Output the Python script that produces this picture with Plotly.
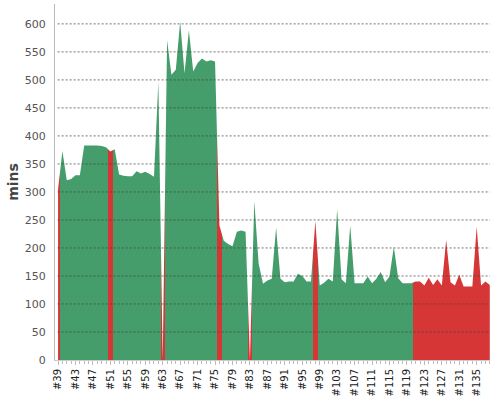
import plotly.graph_objects as go

# session numbers on the x axis, minutes played per session
sessions = list(range(39, 139))
mins = [
    305, 373, 321, 323, 330, 330, 383, 383, 383, 383,
    382, 380, 372, 376, 331, 329, 328, 328, 337, 333,
    336, 332, 327, 497, 0, 571, 509, 518, 604, 512,
    588, 515, 530, 538, 533, 535, 533, 240, 213, 207,
    203, 229, 231, 229, 0, 284, 172, 136, 142, 145,
    236, 145, 139, 140, 140, 154, 150, 140, 140, 248,
    133, 138, 145, 140, 269, 144, 137, 240, 137, 137,
    137, 149, 137, 145, 157, 139, 149, 202, 146, 137,
    137, 137, 140, 140, 133, 147, 134, 144, 133, 214,
    139, 133, 152, 131, 131, 131, 238, 133, 140, 134,
]
# sessions drawn in red
red_sessions = [39, 51, 63, 76, 83, 98] + list(range(121, 139))

tick_sessions = sessions[::4]
tick_labels = ["#%d" % s for s in tick_sessions]
y_ticks = list(range(0, 601, 50))

GREEN = "#449d6b"
RED = "#d63636"

# horizontal colour zones, one session wide, as a stepped colorscale
x0, x1 = sessions[0], sessions[-1]
stops = []
prev = None
for s in sessions:
    col = RED if s in red_sessions else GREEN
    if col != prev:
        p = (max(s - 0.5, x0) - x0) / (x1 - x0)
        if prev is not None:
            stops.append([p, prev])
        stops.append([p, col])
        prev = col
stops.append([1.0, prev])

fig = go.Figure()
fig.add_trace(go.Scatter(
    x=sessions, y=mins, mode="none", fill="tozeroy",
    fillgradient=dict(type="horizontal", colorscale=stops, start=x0, stop=x1),
    hoverinfo="x+y",
))

# dashed grid drawn over the fill
for v in y_ticks[1:]:
    fig.add_shape(type="line", xref="paper", x0=0.006, x1=1, yref="y", y0=v, y1=v,
                  line=dict(color="rgba(70,70,70,0.75)", width=1, dash="2px,2px"),
                  layer="above")

fig.update_layout(
    width=500, height=400,
    margin=dict(l=55, r=10, t=4, b=38),
    plot_bgcolor="white", paper_bgcolor="white",
    font=dict(family="DejaVu Sans", color="#444"),
    showlegend=False,
    xaxis=dict(
        range=[38.3, 138.05], tickvals=tick_sessions, ticktext=tick_labels,
        tickangle=-90, tickfont=dict(size=10, color="#222"),
        showgrid=False, zeroline=False, showline=True, linecolor="#ccc",
        ticks="outside", ticklen=4, tickcolor="#bbb",
        minor=dict(dtick=1, ticks="outside", ticklen=3, tickcolor="#bbb"),
    ),
    yaxis=dict(
        range=[0, 635.5], tickvals=y_ticks, tickfont=dict(size=11, color="#555"),
        showgrid=False, zeroline=False, showline=True, linecolor="#bbb",
        ticks="", ticklabelstandoff=6,
        title=dict(text="<b>mins</b>", font=dict(size=14, color="#444"), standoff=2),
    ),
)

# page body has a default margin; drop it so the chart sits at the window corner
fig.write_html("out.html", config={"displayModeBar": False},
               post_script="document.body.style.margin='0';")
